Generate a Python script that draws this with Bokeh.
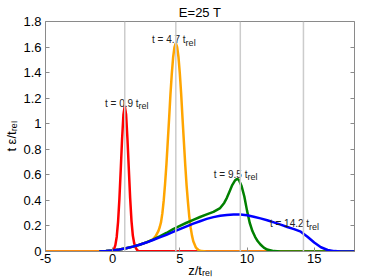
from bokeh.plotting import figure
from bokeh.models import ColumnDataSource, Span, LinearAxis, FixedTicker, Range1d
from bokeh.core.properties import value
from bokeh.embed import file_html
from bokeh.resources import INLINE

# ---------------- data ----------------
title_text = "E=25 T"
x_label_text = "z/t\u1d63\u2091\u2097"          # z/t_rel
y_label_text = "t \u03b5/t\u1d63\u2091\u2097"   # t eps/t_rel

t_values = [0.9, 4.7, 9.5, 14.2]

red_z = [-5, -0.2, 0.0, 0.1, 0.2, 0.3, 0.4, 0.5, 0.6, 0.7, 0.8, 0.9, 1.0, 1.1, 1.2, 1.3,
         1.4, 1.5, 1.6, 1.7, 1.8, 1.9, 2.0, 18]
red_y = [0, 0, 0.006, 0.019, 0.05, 0.114, 0.23, 0.41, 0.64, 0.88, 1.07, 1.14, 1.07, 0.88,
         0.65, 0.42, 0.24, 0.125, 0.065, 0.032, 0.014, 0.005, 0.001, 0]

orange_z = [-5, -1, -0.5, 0, 0.5, 1, 1.5, 2, 2.5, 2.8, 3.0, 3.2, 3.4, 3.5, 3.6, 3.7, 3.8,
            3.9, 4.0, 4.1, 4.2, 4.3, 4.4, 4.5, 4.6, 4.7, 4.8, 4.9, 5.0, 5.1, 5.2, 5.3, 5.4,
            5.5, 5.6, 5.7, 5.8, 5.9, 6.0, 6.2, 6.4, 6.6, 7.0, 18]
orange_y = [0, 0, 0.003, 0.008, 0.016, 0.026, 0.038, 0.053, 0.071, 0.085, 0.095, 0.12, 0.16,
            0.19, 0.23, 0.30, 0.40, 0.53, 0.68, 0.86, 1.04, 1.23, 1.39, 1.52, 1.60, 1.63,
            1.60, 1.52, 1.39, 1.23, 1.04, 0.86, 0.68, 0.52, 0.39, 0.275, 0.19, 0.126, 0.08,
            0.03, 0.01, 0.003, 0, 0]

green_z = [-1, -0.5, 0, 0.5, 1, 1.5, 2, 2.5, 3, 3.5, 4, 4.5, 5, 5.5, 6, 6.5, 7, 7.5, 8, 8.3,
           8.5, 8.7, 8.9, 9.1, 9.25, 9.4, 9.6, 9.8, 10.0, 10.2, 10.4, 10.6, 10.8, 11.0,
           11.25, 11.5, 12.0, 12.5, 18]
green_y = [0, 0.003, 0.008, 0.016, 0.026, 0.038, 0.053, 0.071, 0.093, 0.118, 0.145, 0.175,
           0.20, 0.225, 0.248, 0.27, 0.29, 0.31, 0.34, 0.38, 0.42, 0.47, 0.52, 0.555, 0.568,
           0.56, 0.51, 0.43, 0.32, 0.225, 0.16, 0.115, 0.08, 0.055, 0.03, 0.015, 0.003, 0, 0]

blue_z = [-1, -0.5, 0, 0.5, 1, 1.5, 2, 2.5, 3, 3.5, 4, 4.5, 5, 5.5, 6, 6.5, 7, 7.5, 8, 8.5,
          9, 9.5, 10, 10.5, 11, 11.5, 12, 12.5, 13, 13.5, 14, 14.5, 15, 15.5, 16, 16.5, 17, 18]
blue_y = [0, 0.003, 0.008, 0.016, 0.026, 0.038, 0.053, 0.07, 0.09, 0.11, 0.13, 0.153, 0.175,
          0.197, 0.218, 0.237, 0.255, 0.269, 0.279, 0.286, 0.29, 0.289, 0.283, 0.272, 0.259,
          0.245, 0.228, 0.21, 0.192, 0.175, 0.155, 0.115, 0.07, 0.033, 0.012, 0.003, 0, 0]

curve_labels = ["t = 0.9 t", "t = 4.7 t", "t = 9.5 t", "t = 14.2 t"]
curve_label_sub = ["rel", "rel", "rel", "rel"]
curve_label_x = [1.93, 5.43, 10.03, 14.62]
curve_label_y = [1.162, 1.656, 0.606, 0.219]

x_ticks = [-5, 0, 5, 10, 15]
x_tick_labels = ["-5", "0", "5", "10", "15"]
y_ticks = [0, 0.2, 0.4, 0.6, 0.8, 1.0, 1.2, 1.4, 1.6, 1.8]
y_tick_labels = ["0", "0.2", "0.4", "0.6", "0.8", "1", "1.2", "1.4", "1.6", "1.8"]

# ---------------- figure ----------------
FONT = "Liberation Sans"
AXIS_COLOR = "#8a8a8a"

p = figure(frame_width=309, frame_height=230, output_backend="svg", toolbar_location=None,
           x_range=Range1d(-5, 18), y_range=Range1d(0, 1.8),
           min_border_left=45, min_border_right=15, min_border_top=19, min_border_bottom=10)
p.background_fill_color = "white"
p.border_fill_color = "white"
p.outline_line_color = AXIS_COLOR
p.outline_line_width = 1
p.grid.visible = False

p.title.text = title_text
p.title.align = "center"
p.title.text_font = FONT
p.title.text_font_size = "13px"
p.title.text_font_style = "normal"
p.title.text_color = "black"
p.title.standoff = 4

for ax, ticks, labels in ((p.xaxis[0], x_ticks, x_tick_labels), (p.yaxis[0], y_ticks, y_tick_labels)):
    ax.ticker = FixedTicker(ticks=ticks)
    ax.major_label_overrides = {t: l for t, l in zip(ticks, labels)}
    ax.major_tick_in = 4
    ax.major_tick_out = 0
    ax.minor_tick_line_color = None
    ax.axis_line_color = AXIS_COLOR
    ax.major_tick_line_color = AXIS_COLOR
    ax.major_label_text_font = FONT
    ax.major_label_text_font_size = "13px"
    ax.major_label_text_color = "black"
    ax.major_label_standoff = 4
    ax.axis_label_text_font = FONT
    ax.axis_label_text_font_size = "13px"
    ax.axis_label_text_font_style = "normal"
    ax.axis_label_text_color = "black"
    ax.axis_label_standoff = 1

p.xaxis[0].major_label_standoff = 2
p.xaxis[0].axis_label_standoff = -3
p.xaxis[0].axis_label = x_label_text
p.yaxis[0].axis_label = y_label_text

right_ax = LinearAxis(ticker=FixedTicker(ticks=y_ticks),
                      major_label_overrides={t: "" for t in y_ticks},
                      major_tick_in=4, major_tick_out=0, minor_tick_line_color=None,
                      axis_line_color=None, major_tick_line_color=AXIS_COLOR,
                      major_label_text_font_size="1px", major_label_standoff=0)
p.add_layout(right_ax, "right")

# grey reference lines at the snapshot times
for t in t_values:
    p.add_layout(Span(location=t, dimension="height", line_color="#cccccc", line_width=1.5))

# curves
p.line(red_z, red_y, line_color="#ff0000", line_width=2.5)
p.line(orange_z, orange_y, line_color="#ffa500", line_width=2.5)
p.line(green_z, green_y, line_color="#008000", line_width=2.5)
p.line(blue_z, blue_y, line_color="#0000ff", line_width=2.5)

# curve annotations (main text + subscript)
src = ColumnDataSource(dict(x=curve_label_x, y=curve_label_y, main=curve_labels, sub=curve_label_sub))
p.text(x="x", y="y", text="main", source=src, text_align="right", text_baseline="alphabetic",
       text_font=value(FONT), text_font_size="10px", text_color="#222222")
p.text(x="x", y="y", text="sub", source=src, text_align="left", text_baseline="alphabetic",
       y_offset=3, text_font=value(FONT), text_font_size="9px", text_color="#222222")

open("out.html", "w").write(file_html(p, INLINE))
